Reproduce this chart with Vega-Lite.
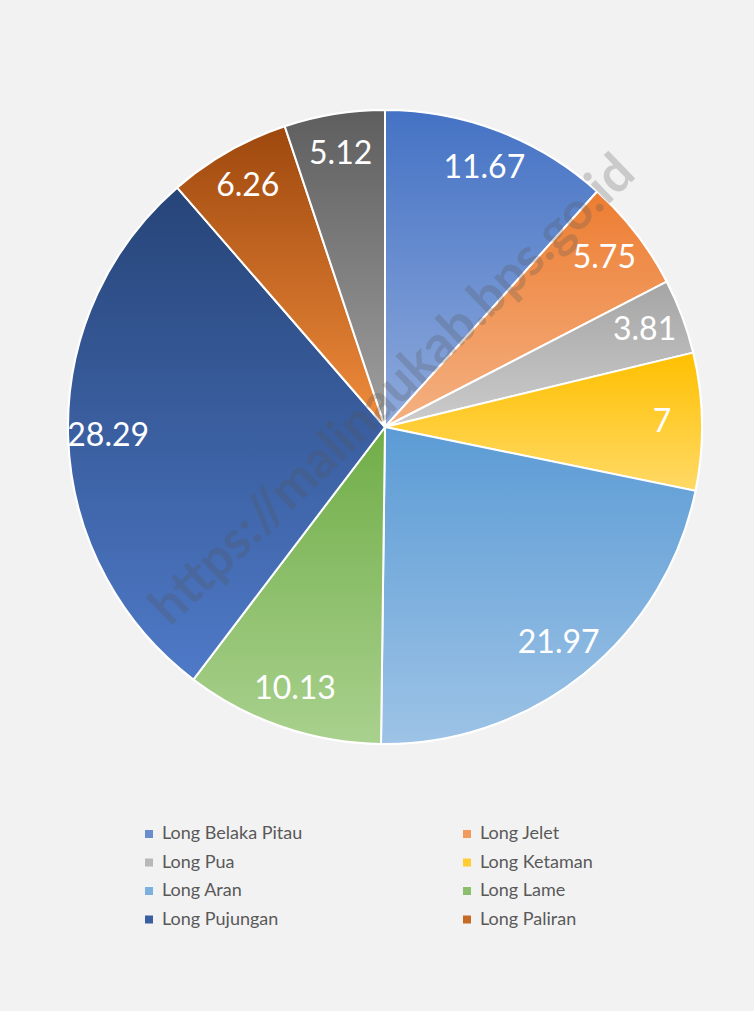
{
  "$schema": "https://vega.github.io/schema/vega-lite/v6.json",
  "width": 770,
  "height": 854,
  "autosize": {"type": "none"},
  "padding": {"left": 0, "top": 0, "right": 0, "bottom": 160},
  "background": "#f2f2f2",
  "config": {"view": {"stroke": null}, "font": "Lato"},
  "layer": [
    {
      "data": {"name": "main", "values": [
        {"desa": "Long Belaka Pitau", "value": 11.67},
        {"desa": "Long Jelet", "value": 5.75},
        {"desa": "Long Pua", "value": 3.81},
        {"desa": "Long Ketaman", "value": 7},
        {"desa": "Long Aran", "value": 21.97},
        {"desa": "Long Lame", "value": 10.13},
        {"desa": "Long Pujungan", "value": 28.29},
        {"desa": "Long Paliran", "value": 6.26},
        {"desa": "Long Bena", "value": 5.12}
      ]},
      "transform": [
        {"window": [{"op": "row_number", "as": "idx"}]},
        {"stack": "value", "groupby": [], "sort": [{"field": "idx", "order": "ascending"}], "as": ["v0", "v1"]}
      ],
      "layer": [
        {
          "mark": {"type": "arc", "outerRadius": 317, "stroke": "#ffffff", "strokeWidth": 2},
          "encoding": {
            "theta": {"field": "v0", "type": "quantitative", "scale": {"domain": [0, 100]}},
            "theta2": {"field": "v1"},
            "color": {
              "field": "desa", "type": "nominal",
              "scale": {
                "domain": ["Long Belaka Pitau", "Long Jelet", "Long Pua", "Long Ketaman", "Long Aran", "Long Lame", "Long Pujungan", "Long Paliran", "Long Bena"],
                "range": ["#6a8dd0", "#f09a5b", "#b8b8b8", "#ffcc33", "#7cb0de", "#8cbf6b", "#3a5ea0", "#c76a25", "#808080"]
              },
              "legend": {
                "title": null,
                "orient": "none",
                "legendX": 140,
                "legendY": 825,
                "columns": 2,
                "direction": "horizontal",
                "columnPadding": 155,
                "rowPadding": 10.5,
                "padding": 0,
                "symbolType": "square",
                "symbolSize": 64,
                "symbolStrokeWidth": 0,
                "labelFont": "Lato",
                "labelFontSize": 18,
                "labelColor": "#595959",
                "labelOffset": 4,
                "values": ["Long Belaka Pitau", "Long Jelet", "Long Pua", "Long Ketaman", "Long Aran", "Long Lame", "Long Pujungan", "Long Paliran"]
              }
            }
          }
        },
        {
          "transform": [{"filter": {"field": "desa", "equal": "Long Belaka Pitau"}}],
          "mark": {"type": "arc", "outerRadius": 317, "stroke": "#ffffff", "strokeWidth": 2, "color": {"gradient": "linear", "x1": 0, "y1": 0, "x2": 0, "y2": 1, "stops": [{"offset": 0, "color": "#4472c4"}, {"offset": 1, "color": "#8faadc"}]}},
          "encoding": {"theta": {"field": "v0", "type": "quantitative"}, "theta2": {"field": "v1"}}
        },
        {
          "transform": [{"filter": {"field": "desa", "equal": "Long Jelet"}}],
          "mark": {"type": "arc", "outerRadius": 317, "stroke": "#ffffff", "strokeWidth": 2, "color": {"gradient": "linear", "x1": 0, "y1": 0, "x2": 0, "y2": 1, "stops": [{"offset": 0, "color": "#ed7d31"}, {"offset": 1, "color": "#f4b183"}]}},
          "encoding": {"theta": {"field": "v0", "type": "quantitative"}, "theta2": {"field": "v1"}}
        },
        {
          "transform": [{"filter": {"field": "desa", "equal": "Long Pua"}}],
          "mark": {"type": "arc", "outerRadius": 317, "stroke": "#ffffff", "strokeWidth": 2, "color": {"gradient": "linear", "x1": 0, "y1": 0, "x2": 0, "y2": 1, "stops": [{"offset": 0, "color": "#a5a5a5"}, {"offset": 1, "color": "#cccccc"}]}},
          "encoding": {"theta": {"field": "v0", "type": "quantitative"}, "theta2": {"field": "v1"}}
        },
        {
          "transform": [{"filter": {"field": "desa", "equal": "Long Ketaman"}}],
          "mark": {"type": "arc", "outerRadius": 317, "stroke": "#ffffff", "strokeWidth": 2, "color": {"gradient": "linear", "x1": 0, "y1": 0, "x2": 0, "y2": 1, "stops": [{"offset": 0, "color": "#ffc000"}, {"offset": 1, "color": "#ffd966"}]}},
          "encoding": {"theta": {"field": "v0", "type": "quantitative"}, "theta2": {"field": "v1"}}
        },
        {
          "transform": [{"filter": {"field": "desa", "equal": "Long Aran"}}],
          "mark": {"type": "arc", "outerRadius": 317, "stroke": "#ffffff", "strokeWidth": 2, "color": {"gradient": "linear", "x1": 0, "y1": 0, "x2": 0, "y2": 1, "stops": [{"offset": 0, "color": "#5b9bd5"}, {"offset": 1, "color": "#9dc3e6"}]}},
          "encoding": {"theta": {"field": "v0", "type": "quantitative"}, "theta2": {"field": "v1"}}
        },
        {
          "transform": [{"filter": {"field": "desa", "equal": "Long Lame"}}],
          "mark": {"type": "arc", "outerRadius": 317, "stroke": "#ffffff", "strokeWidth": 2, "color": {"gradient": "linear", "x1": 0, "y1": 0, "x2": 0, "y2": 1, "stops": [{"offset": 0, "color": "#70ad47"}, {"offset": 1, "color": "#a9d18e"}]}},
          "encoding": {"theta": {"field": "v0", "type": "quantitative"}, "theta2": {"field": "v1"}}
        },
        {
          "transform": [{"filter": {"field": "desa", "equal": "Long Pujungan"}}],
          "mark": {"type": "arc", "outerRadius": 317, "stroke": "#ffffff", "strokeWidth": 2, "color": {"gradient": "linear", "x1": 0, "y1": 0, "x2": 0, "y2": 1, "stops": [{"offset": 0, "color": "#264478"}, {"offset": 1, "color": "#4f7ac8"}]}},
          "encoding": {"theta": {"field": "v0", "type": "quantitative"}, "theta2": {"field": "v1"}}
        },
        {
          "transform": [{"filter": {"field": "desa", "equal": "Long Paliran"}}],
          "mark": {"type": "arc", "outerRadius": 317, "stroke": "#ffffff", "strokeWidth": 2, "color": {"gradient": "linear", "x1": 0, "y1": 0, "x2": 0, "y2": 1, "stops": [{"offset": 0, "color": "#9e480e"}, {"offset": 1, "color": "#f08c3c"}]}},
          "encoding": {"theta": {"field": "v0", "type": "quantitative"}, "theta2": {"field": "v1"}}
        },
        {
          "transform": [{"filter": {"field": "desa", "equal": "Long Bena"}}],
          "mark": {"type": "arc", "outerRadius": 317, "stroke": "#ffffff", "strokeWidth": 2, "color": {"gradient": "linear", "x1": 0, "y1": 0, "x2": 0, "y2": 1, "stops": [{"offset": 0, "color": "#5e5e5e"}, {"offset": 1, "color": "#a0a0a0"}]}},
          "encoding": {"theta": {"field": "v0", "type": "quantitative"}, "theta2": {"field": "v1"}}
        },
        {
          "mark": {"type": "text", "radius": 277, "fontSize": 32, "font": "Lato", "color": "#ffffff", "align": "center", "baseline": "middle"},
          "encoding": {
            "theta": {"field": "value", "type": "quantitative", "stack": true},
            "order": {"field": "idx", "type": "quantitative"},
            "text": {"field": "value", "type": "quantitative"}
          }
        }
      ]
    },
    {
      "data": {"values": [{"wm": "https://malinaukab.bps.go.id"}]},
      "mark": {"type": "text", "angle": -44, "fontSize": 52, "fontWeight": "bold", "font": "Lato", "color": "#555555", "opacity": 0.25, "align": "center", "baseline": "middle", "dx": 31, "dy": -21},
      "encoding": {"text": {"field": "wm", "type": "nominal"}}
    }
  ]
}
